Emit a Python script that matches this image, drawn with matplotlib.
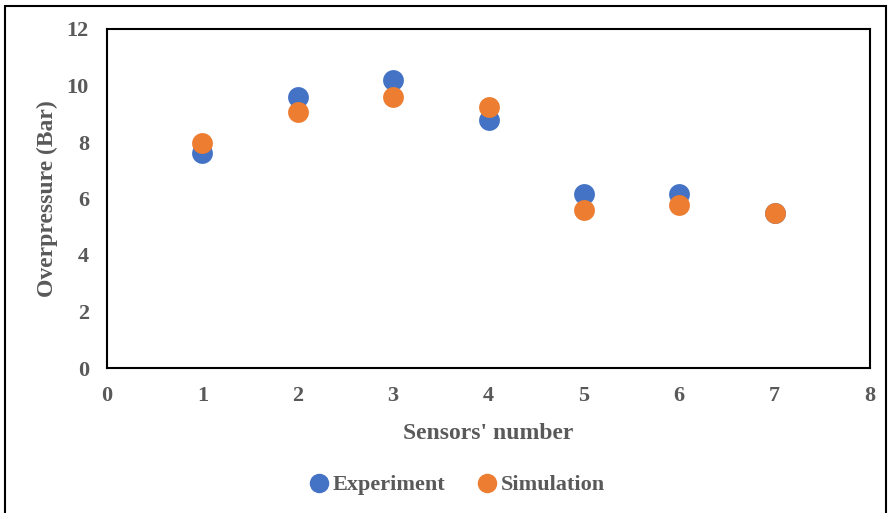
import matplotlib
matplotlib.use("Agg")
import matplotlib.pyplot as plt
from matplotlib.patches import Rectangle
from matplotlib.lines import Line2D

sensors = [1, 2, 3, 4, 5, 6, 7]
experiment = [7.62, 9.58, 10.19, 8.78, 6.16, 6.16, 5.48]
simulation = [7.95, 9.07, 9.58, 9.25, 5.59, 5.78, 5.50]
x_ticks = [0, 1, 2, 3, 4, 5, 6, 7, 8]
y_ticks = [0, 2, 4, 6, 8, 10, 12]

BLUE = "#4472C4"
ORANGE = "#ED7D31"
GRAY = "#595959"
FONT = "Liberation Serif"

W, H = 889, 513
fig = plt.figure(figsize=(W / 100, H / 100), dpi=100)
ax = fig.add_axes([107 / W, 1 - 368 / H, (870 - 107) / W, (368 - 29) / H])

ax.scatter(sensors, experiment, s=225, color=BLUE, zorder=3, linewidths=0)
ax.scatter(sensors, simulation, s=225, color=ORANGE, zorder=4, linewidths=0)

ax.set_xlim(0, 8)
ax.set_ylim(0, 12)
ax.set_xticks(x_ticks)
ax.set_yticks(y_ticks)
ax.tick_params(length=0, labelsize=16, labelcolor=GRAY)
ax.tick_params(axis="x", pad=13)
ax.tick_params(axis="y", pad=13)
for lab in ax.get_xticklabels() + ax.get_yticklabels():
    lab.set_fontfamily(FONT)
    lab.set_fontweight("bold")
for sp in ax.spines.values():
    sp.set_color("black")
    sp.set_linewidth(1.5)

ax.set_xlabel("Sensors' number", fontsize=17, fontweight="bold", color=GRAY,
              fontfamily=FONT, labelpad=12)
ax.set_ylabel("Overpressure (Bar)", fontsize=17, fontweight="bold", color=GRAY,
              fontfamily=FONT, labelpad=6)

handles = [
    Line2D([], [], marker="o", linestyle="none", color=BLUE, markersize=13),
    Line2D([], [], marker="o", linestyle="none", color=ORANGE, markersize=13),
]
leg = fig.legend(handles, ["Experiment", "Simulation"], loc="center",
                 bbox_to_anchor=(455 / W, 1 - 485 / H), ncol=2, frameon=False,
                 handletextpad=0.0, columnspacing=1.3, handlelength=1.2,
                 prop={"family": FONT, "weight": "bold", "size": 16})
for t in leg.get_texts():
    t.set_color(GRAY)

fig.patches.append(Rectangle((5 / W, -0.02), (886 - 5) / W, 1.02 - 6 / H,
                             transform=fig.transFigure, fill=False,
                             edgecolor="black", linewidth=1.5))

fig.savefig("out.png", dpi=100)
